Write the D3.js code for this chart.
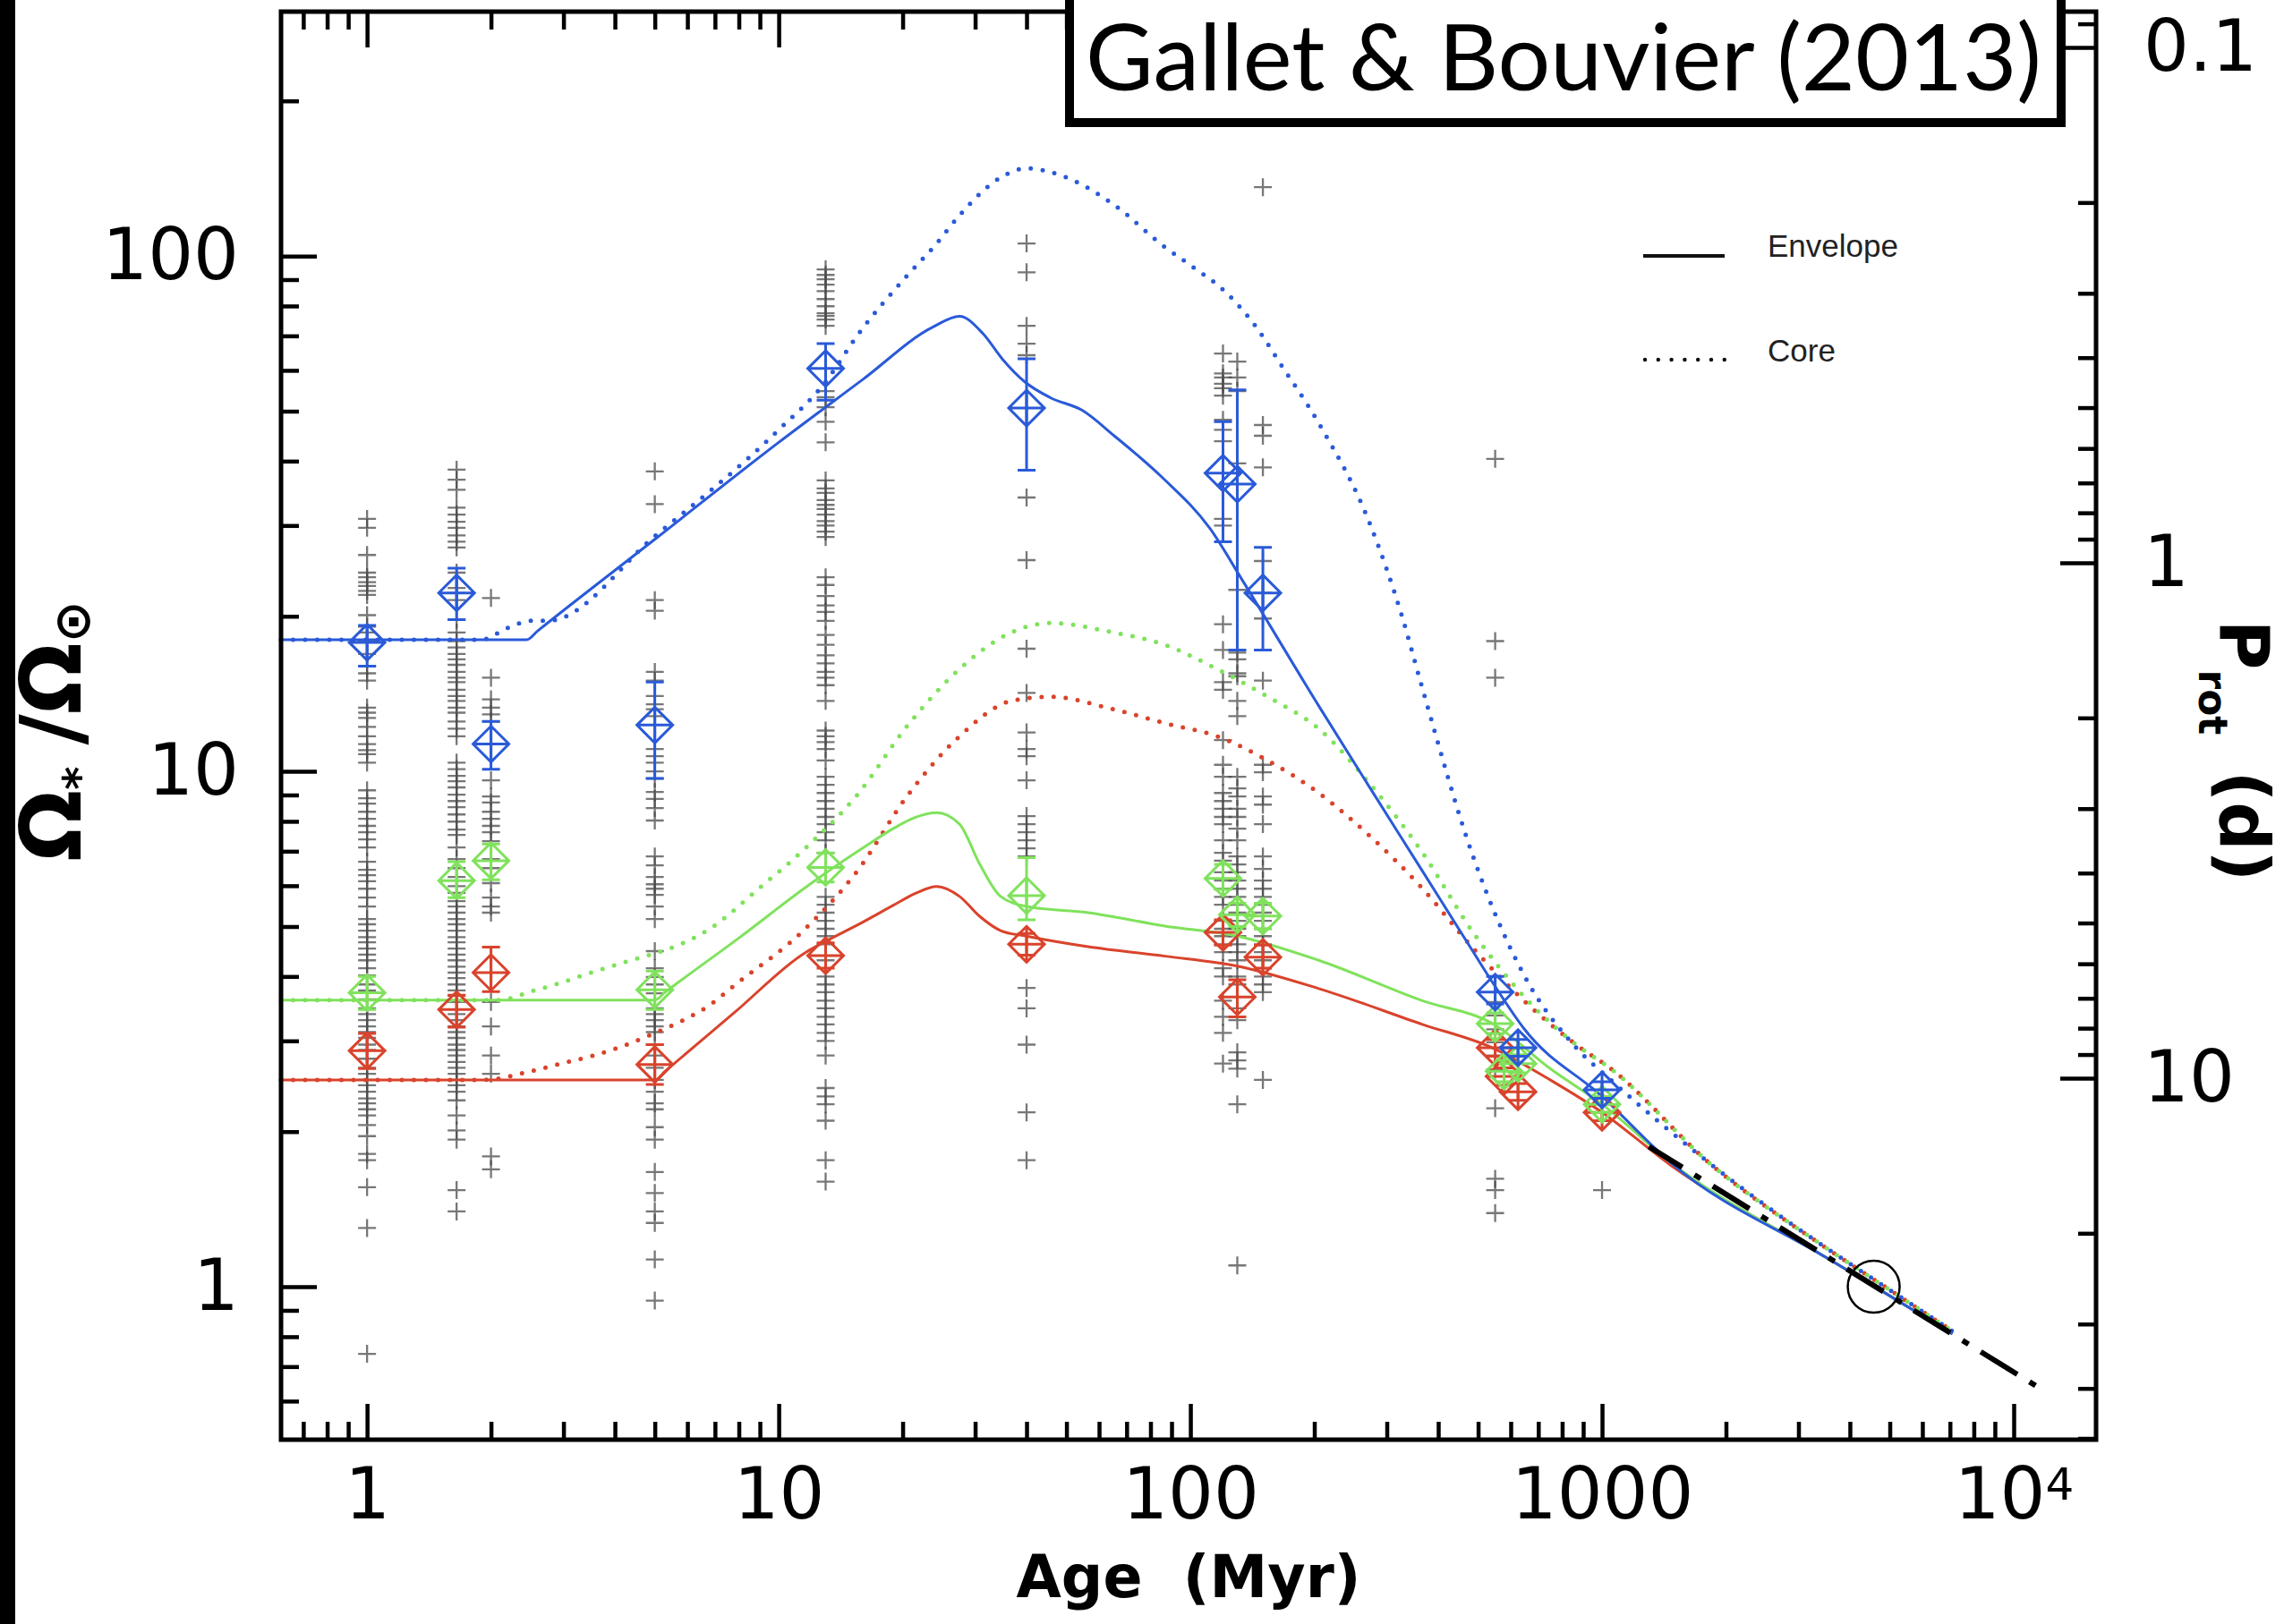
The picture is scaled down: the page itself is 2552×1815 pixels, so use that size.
<!DOCTYPE html>
<html>
<head>
<meta charset="utf-8">
<script src="https://cdn.jsdelivr.net/npm/d3@7"></script>
<style>
  body { margin: 0; background: #fff; }
  svg { display: block; }
</style>
</head>
<body>
<svg id="chart" width="2552" height="1815"></svg>
<script>
// Observed clusters (age in Myr) and the Omega/Omega_sun of their stars
const clusterAges = [1, 1.65, 2, 5, 13, 40, 120, 130, 150, 550, 1000];
const omegaONC = [30.9, 29.7, 26.3, 24.3, 23.8, 23.3, 22.9, 22.4, 22.0, 20.1, 19.1, 18.6, 17.9, 16.9, 16.0, 15.5, 15.0, 13.3, 13.0, 12.7, 12.2, 11.7, 11.3, 11.0, 10.8, 10.4, 9.19, 8.87, 8.66, 8.35, 8.09, 7.84, 7.62, 7.38, 7.12, 6.68, 6.44, 6.29, 6.12, 5.92, 5.69, 5.47, 5.17, 5.05, 4.91, 4.77, 4.66, 4.53, 4.41, 4.30, 4.15, 4.02, 3.86, 3.76, 3.61, 3.47, 3.38, 3.29, 3.20, 3.12, 3.04, 2.95, 2.88, 2.77, 2.66, 2.59, 2.52, 2.46, 2.39, 2.32, 2.27, 2.21, 2.15, 2.06, 1.96, 1.81, 1.76, 1.56, 1.30, 0.741];
const omegaNGC6530 = [38.5, 36.8, 35.2, 32.5, 31.5, 30.5, 29.7, 28.7, 27.9, 27.2, 24.3, 22.7, 22.2, 21.5, 19.7, 18.6, 17.9, 17.4, 16.9, 16.5, 16.1, 15.6, 15.2, 14.9, 14.4, 14.0, 13.7, 13.3, 13.0, 12.5, 12.1, 11.7, 10.4, 10.1, 9.80, 9.57, 9.31, 9.01, 8.76, 8.52, 8.25, 7.99, 7.71, 7.53, 7.12, 6.76, 6.49, 6.24, 5.99, 5.81, 5.60, 5.47, 5.32, 5.17, 5.05, 4.91, 4.77, 4.66, 4.53, 4.41, 4.30, 4.18, 4.07, 3.97, 3.86, 3.76, 3.67, 3.57, 3.38, 3.29, 3.20, 3.12, 3.04, 2.95, 2.88, 2.81, 2.73, 2.66, 2.59, 2.52, 2.46, 2.39, 2.30, 2.15, 2.01, 1.93, 1.54, 1.40];
const omegaNGC2264 = [21.7, 15.2, 13.8, 13.3, 12.9, 12.5, 9.61, 8.94, 8.70, 8.35, 8.09, 7.84, 7.62, 7.32, 6.76, 6.49, 6.07, 5.69, 5.47, 5.32, 3.57, 3.20, 2.81, 2.59, 1.79, 1.69];
const omegaNGC2362 = [38.2, 33.0, 21.5, 20.5, 15.6, 15.0, 14.0, 13.5, 13.2, 12.8, 11.05, 10.7, 10.4, 10.0, 9.69, 9.12, 8.84, 8.49, 8.03, 6.84, 6.57, 6.24, 6.04, 5.92, 5.76, 5.47, 5.17, 4.48, 4.15, 3.99, 3.86, 3.71, 3.47, 3.38, 3.29, 3.20, 3.12, 2.95, 2.81, 2.66, 2.52, 2.39, 2.27, 2.21, 2.04, 1.93, 1.67, 1.52, 1.40, 1.33, 1.13, 0.94];
const omegaHPer = [94.2, 91.9, 90.1, 88.0, 85.5, 82.5, 79.9, 77.4, 76.5, 75.3, 73.2, 54.7, 53.2, 50.9, 47.7, 43.5, 36.7, 35.4, 34.7, 33.6, 32.9, 32.3, 31.5, 30.6, 30.0, 29.2, 28.5, 23.8, 23.0, 21.9, 21.0, 20.4, 19.6, 18.4, 17.6, 16.8, 16.2, 15.6, 15.2, 14.7, 13.7, 12.0, 11.7, 11.4, 11.05, 10.5, 9.76, 9.42, 9.08, 8.76, 8.46, 8.16, 7.90, 7.62, 7.35, 6.95, 5.71, 5.51, 5.32, 5.13, 4.95, 4.79, 4.62, 4.30, 4.00, 3.86, 3.73, 3.59, 3.47, 3.34, 3.23, 3.11, 3.00, 2.81, 2.43, 2.34, 2.26, 2.10, 1.76, 1.60];
const omegaNGC2547 = [105.8, 93.0, 73.2, 67.6, 64.2, 34.0, 25.7, 17.3, 14.2, 11.9, 11.05, 10.7, 9.61, 8.19, 7.90, 7.62, 7.35, 7.09, 6.84, 3.80, 3.47, 2.95, 2.18, 1.76];
const omegaPleiades = [64.7, 59.2, 58.1, 56.5, 55.4, 53.6, 48.1, 46.0, 43.7, 30.9, 30.0, 19.3, 17.2, 14.9, 14.4, 11.5, 10.3, 9.76, 9.08, 8.76, 8.46, 8.16, 7.90, 7.35, 6.95, 6.71, 6.37, 6.14, 5.92, 5.71, 5.51, 5.13, 4.95, 4.79, 4.62, 4.46, 4.15, 4.00, 3.59, 3.34, 3.11, 2.71];
const omegaM50 = [62.4, 58.1, 54.7, 39.6, 22.5, 17.0, 16.5, 15.5, 15.3, 13.7, 12.8, 9.76, 9.27, 8.94, 8.46, 8.16, 7.74, 7.35, 6.84, 6.60, 6.37, 6.14, 5.92, 5.71, 5.51, 5.32, 5.13, 4.95, 4.79, 4.62, 4.46, 4.30, 4.00, 3.86, 3.47, 3.29, 2.85, 2.75, 2.65, 2.26, 1.10];
const omegaM35 = [136, 47.0, 44.8, 38.9, 25.6, 22.2, 19.8, 15.0, 10.3, 9.96, 8.94, 8.62, 7.90, 6.84, 6.47, 6.14, 5.92, 5.71, 5.51, 5.32, 5.13, 4.95, 4.79, 4.62, 4.46, 4.30, 4.15, 4.00, 3.86, 3.73, 2.52];
const omegaM37 = [40.4, 17.9, 15.2, 3.57, 3.36, 3.16, 2.98, 2.81, 2.64, 2.22, 1.62, 1.54, 1.39];
const omegaNGC6811 = [1.54];
const clusterOmegas = [omegaONC, omegaNGC6530, omegaNGC2264, omegaNGC2362, omegaHPer, omegaNGC2547,
  omegaPleiades, omegaM50, omegaM35, omegaM37, omegaNGC6811];

// Percentiles (fast = blue, median = green, slow = red) with error bars
const fastAges = [1, 1.65, 2, 5, 13, 40, 120, 130, 150, 550, 625, 1000];
const fastOmega = [17.8, 22.2, 11.3, 12.3, 60.5, 50.7, 37.9, 36.1, 22.2, 3.73, 2.91, 2.41];
const fastLo = [16.0, 19.7, 10.1, 9.69, 52.5, 38.4, 27.9, 17.2, 17.2, 3.54, 2.80, 2.32];
const fastHi = [19.2, 24.8, 12.5, 14.9, 67.6, 63.2, 47.7, 55.0, 27.2, 4.00, 3.02, 2.50];
const medAges = [1, 1.65, 2, 5, 13, 40, 120, 130, 150, 550, 578, 625, 1000];
const medOmega = [3.72, 6.14, 6.71, 3.77, 6.51, 5.74, 6.2, 5.27, 5.24, 3.24, 2.62, 2.71, 2.26];
const medLo = [3.45, 5.69, 6.16, 3.45, 6.1, 5.15, 5.9, 5.0, 4.95, 3.1, 2.5, 2.6, 2.18];
const medHi = [4.0, 6.68, 7.23, 4.1, 6.95, 6.8, 6.6, 5.55, 5.55, 3.4, 2.75, 2.82, 2.34];
const slowAges = [1, 1.65, 2, 5, 13, 40, 120, 130, 150, 550, 578, 625, 1000];
const slowOmega = [2.87, 3.45, 4.07, 2.70, 4.39, 4.62, 4.87, 3.65, 4.36, 2.91, 2.56, 2.39, 2.18];
const slowLo = [2.65, 3.19, 3.74, 2.47, 4.15, 4.40, 4.6, 3.34, 4.15, 2.80, 2.46, 2.30, 2.10];
const slowHi = [3.10, 3.68, 4.56, 2.95, 4.65, 4.85, 5.15, 3.94, 4.6, 3.02, 2.66, 2.48, 2.26];

// Model curves [age Myr, Omega/Omega_sun]
const envFast = [[0.618,18.0],[2.44,18.0],[2.6,18.75],[5,28.2],[10,43.5],[16,57.6],[23.6,72.7],[27.5,76.4],[31.4,70.6],[35,63.0],[39.6,57.0],[45.7,53.1],[54.6,50.2],[65.3,44.8],[85.4,37.2],[111.6,29.6],[133.7,23.5],[205,13.4],[274,9.25],[366,6.41],[486,4.47],[546,3.86],[646,3.17],[1000,2.34],[1470,1.74],[3500,1.14],[4600,1.0],[7100,0.81]];
const coreFast = [[0.618,18.0],[1.89,18.0],[2.2,19.0],[2.5,19.6],[2.75,19.6],[5,28.6],[10,46],[13,57],[15.5,70],[20.6,92],[24,105],[27.5,120],[34.6,142],[40,148],[48.9,143],[65,126],[86.8,104],[100,96],[122,85],[146,72],[165,62],[205,47.4],[274,30],[326,20.1],[366,14.5],[486,6.84],[649,4.0],[865,2.91],[1050,2.52],[1820,1.74],[3500,1.19],[4600,1.03],[7100,0.82]];
const envMedian = [[0.618,3.6],[5.0,3.6],[5.3,3.73],[8,4.75],[11.6,5.95],[13,6.35],[16,7.1],[19,7.75],[21.5,8.15],[24.2,8.32],[27.5,7.9],[30.8,6.6],[34.6,5.72],[40,5.47],[56.4,5.32],[86.8,5.01],[130,4.79],[205,4.30],[366,3.59],[546,3.23],[748,2.65],[1000,2.26],[1470,1.74],[3500,1.14],[4600,1.0],[7100,0.81]];
const coreMedian = [[0.618,3.6],[2.09,3.6],[2.5,3.74],[2.96,3.89],[3.5,4.07],[4.13,4.24],[4.88,4.41],[5.77,4.62],[6.8,4.95],[9,5.95],[11.6,7.09],[15.5,9.0],[20.6,12.3],[27.5,15.8],[36.7,18.6],[45.6,19.4],[65,18.6],[86.8,17.6],[116,15.8],[154,13.96],[205,12.1],[274,9.42],[366,6.96],[486,4.87],[646,3.66],[865,2.95],[1050,2.65],[1820,1.74],[3500,1.19],[4600,1.03],[7100,0.82]];
const envSlow = [[0.618,2.52],[5.0,2.52],[5.3,2.62],[7.79,3.40],[11.6,4.45],[13,4.68],[16,5.1],[19,5.5],[21.5,5.8],[24.2,5.98],[27.5,5.72],[30.8,5.23],[34.6,4.91],[40,4.79],[56.4,4.57],[86.8,4.38],[130,4.19],[205,3.79],[366,3.23],[546,2.90],[748,2.52],[1000,2.18],[1470,1.72],[3500,1.14],[4600,1.0],[7100,0.81]];
const coreSlow = [[0.618,2.52],[1.92,2.52],[2.5,2.62],[2.96,2.71],[3.5,2.80],[4.13,2.92],[4.88,3.08],[5.77,3.27],[6.8,3.52],[7.79,3.84],[11.6,4.95],[15.5,6.4],[20.6,9.0],[27.5,11.7],[36.7,13.7],[45.6,13.96],[65,13.2],[86.8,12.4],[116,11.7],[154,10.5],[205,9.08],[274,7.47],[366,5.93],[486,4.54],[646,3.59],[865,2.95],[1050,2.65],[1820,1.74],[3500,1.19],[4600,1.03],[7100,0.82]];
const skumanich = [[11300,0.643],[1300,1.87]];
const sunAge = 4570, sunOmega = 1;

// Axis ticks and labels
const xMajor = [1, 10, 100, 1000, 10000];
const xLabels = ['1', '10', '100', '1000', '10^4'];
const xMinor = [0.7, 0.8, 0.9, 2, 3, 4, 5, 6, 7, 8, 9, 20, 30, 40, 50, 60, 70, 80, 90,
  200, 300, 400, 500, 600, 700, 800, 900, 2000, 3000, 4000, 5000, 6000, 7000, 8000, 9000];
const yMajor = [1, 10, 100];
const yLabels = ['1', '10', '100'];
const yMinor = [0.6, 0.7, 0.8, 0.9, 2, 3, 4, 5, 6, 7, 8, 9, 20, 30, 40, 50, 60, 70, 80, 90, 200];
const pMajor = [0.1, 1, 10];
const pLabels = ['0.1', '1', '10'];
const pMinor = [0.09, 0.2, 0.3, 0.4, 0.5, 0.6, 0.7, 0.8, 0.9, 2, 3, 4, 5, 6, 7, 8, 9, 20, 30, 40, 50];
const pSun = 25.4;

const colors = { fast: '#2a5ad8', median: '#80e25c', slow: '#d9432c' };

// ---- drawing ----
let svg = d3.select('#chart');
let frameLeft = 314, frameRight = 2342, frameTop = 13, frameBottom = 1609;

let x = d3.scaleLog().domain([0.618, 15850]).range([frameLeft, frameRight]);
let y = d3.scaleLog().domain([0.505, 298]).range([frameBottom, frameTop]);
let yP = d3.scaleLog().domain([pSun / 0.505, pSun / 298]).range([frameBottom, frameTop]);

svg.append('rect').attr('width', 2552).attr('height', 1815).attr('fill', '#fff');
svg.append('rect').attr('x', 0).attr('y', 0).attr('width', 17).attr('height', 1815).attr('fill', '#000');

let labelFont = '"DejaVu Sans", "Liberation Sans", sans-serif';

let styleAxis = (g, fontSize) => {
    g.select('.domain').remove();
    g.selectAll('line').attr('stroke', '#000').attr('stroke-width', 4.5);
    g.attr('font-size', fontSize).attr('font-family', labelFont);
    g.selectAll('text').attr('fill', '#000');
};

// bottom axis
svg.append('g').attr('transform', `translate(0,${frameBottom})`)
    .call(d3.axisBottom(x).tickValues(xMajor).tickSizeInner(-40).tickSizeOuter(0).tickPadding(31)
        .tickFormat((d, i) => xLabels[i]))
    .call((g) => styleAxis(g, 80))
    .call((g) => g.selectAll('text').filter((d) => d === 10000).each(function () {
        let t = d3.select(this).text('');
        t.append('tspan').text('10');
        t.append('tspan').attr('dy', '-0.42em').attr('font-size', 50).text('4');
    }));
svg.append('g').attr('transform', `translate(0,${frameBottom})`)
    .call(d3.axisBottom(x).tickValues(xMinor).tickSizeInner(-20).tickSizeOuter(0).tickFormat(''))
    .call((g) => styleAxis(g, 10));

// top axis
svg.append('g').attr('transform', `translate(0,${frameTop})`)
    .call(d3.axisTop(x).tickValues(xMajor).tickSizeInner(-40).tickSizeOuter(0).tickFormat(''))
    .call((g) => styleAxis(g, 10));
svg.append('g').attr('transform', `translate(0,${frameTop})`)
    .call(d3.axisTop(x).tickValues(xMinor).tickSizeInner(-20).tickSizeOuter(0).tickFormat(''))
    .call((g) => styleAxis(g, 10));

// left axis
svg.append('g').attr('transform', `translate(${frameLeft},0)`)
    .call(d3.axisLeft(y).tickValues(yMajor).tickSizeInner(-40).tickSizeOuter(0).tickPadding(47)
        .tickFormat((d, i) => yLabels[i]))
    .call((g) => styleAxis(g, 80));
svg.append('g').attr('transform', `translate(${frameLeft},0)`)
    .call(d3.axisLeft(y).tickValues(yMinor).tickSizeInner(-20).tickSizeOuter(0).tickFormat(''))
    .call((g) => styleAxis(g, 10));

// right axis (rotation period)
svg.append('g').attr('transform', `translate(${frameRight},0)`)
    .call(d3.axisRight(yP).tickValues(pMajor).tickSizeInner(-40).tickSizeOuter(0).tickPadding(53)
        .tickFormat((d, i) => pLabels[i]))
    .call((g) => styleAxis(g, 80));
svg.append('g').attr('transform', `translate(${frameRight},0)`)
    .call(d3.axisRight(yP).tickValues(pMinor).tickSizeInner(-20).tickSizeOuter(0).tickFormat(''))
    .call((g) => styleAxis(g, 10));

// observed stars
let plot = svg.append('g');
let stars = [];
clusterAges.forEach((age, i) => clusterOmegas[i].forEach((w) => stars.push({ age, w })));
plot.selectAll('path.star')
    .data(stars)
    .enter()
    .append('path')
    .attr('class', 'star')
    .attr('transform', (d) => `translate(${x(d.age)},${y(d.w)})`)
    .attr('d', 'M-10,0H10M0,-10V10')
    .attr('stroke', '#4a4a4a')
    .attr('stroke-opacity', 0.75)
    .attr('stroke-width', 2.3)
    .attr('fill', 'none');

// model curves
let line = d3.line()
    .x((d) => x(d[0]))
    .y((d) => y(d[1]))
    .curve(d3.curveMonotoneX);

let drawCurve = (data, color, dotted) => {
    let p = plot.append('path')
        .datum(data)
        .attr('fill', 'none')
        .attr('stroke', color)
        .attr('d', line);
    if (dotted) {
        p.attr('stroke-width', 5).attr('stroke-linecap', 'round').attr('stroke-dasharray', '0 13.5');
    } else {
        p.attr('stroke-width', 3);
    }
};
drawCurve(coreSlow, colors.slow, true);
drawCurve(coreMedian, colors.median, true);
drawCurve(coreFast, colors.fast, true);
drawCurve(envSlow, colors.slow, false);
drawCurve(envMedian, colors.median, false);
drawCurve(envFast, colors.fast, false);

// percentile diamonds with error bars
let drawDiamonds = (ages, vals, lo, hi, color) => {
    let rows = ages.map((a, i) => ({ a, v: vals[i], lo: lo[i], hi: hi[i] }));
    let g = plot.append('g').attr('stroke', color).attr('fill', 'none').attr('stroke-width', 3);
    rows.forEach((d) => {
        let cx = x(d.a);
        g.append('path')
            .attr('d', `M${cx},${y(d.lo)}V${y(d.hi)}M${cx - 10},${y(d.lo)}H${cx + 10}M${cx - 10},${y(d.hi)}H${cx + 10}`);
        g.append('path')
            .attr('transform', `translate(${cx},${y(d.v)})`)
            .attr('d', 'M0,-20L20,0L0,20L-20,0ZM-20,0H20M0,-20V20');
    });
};
drawDiamonds(slowAges, slowOmega, slowLo, slowHi, colors.slow);
drawDiamonds(medAges, medOmega, medLo, medHi, colors.median);
drawDiamonds(fastAges, fastOmega, fastLo, fastHi, colors.fast);

// Skumanich extrapolation and the Sun
plot.append('path')
    .datum(skumanich)
    .attr('fill', 'none')
    .attr('stroke', '#000')
    .attr('stroke-width', 6)
    .attr('stroke-dasharray', '8 16 48 16')
    .attr('d', d3.line().x((d) => x(d[0])).y((d) => y(d[1])));
plot.append('circle')
    .attr('cx', x(sunAge))
    .attr('cy', y(sunOmega))
    .attr('r', 29)
    .attr('fill', 'none')
    .attr('stroke', '#000')
    .attr('stroke-width', 2.5);

// frame
svg.append('rect')
    .attr('x', frameLeft).attr('y', frameTop)
    .attr('width', frameRight - frameLeft).attr('height', frameBottom - frameTop)
    .attr('fill', 'none').attr('stroke', '#000').attr('stroke-width', 5);

// legend
let legend = svg.append('g').attr('font-family', '"Liberation Sans", Arial, sans-serif')
    .attr('font-size', 35).attr('fill', '#222');
legend.append('line').attr('x1', 1836).attr('x2', 1927).attr('y1', 286).attr('y2', 286)
    .attr('stroke', '#111').attr('stroke-width', 4);
legend.append('text').attr('x', 1975).attr('y', 287).text('Envelope');
legend.append('line').attr('x1', 1838).attr('x2', 1927).attr('y1', 402).attr('y2', 402)
    .attr('stroke', '#111').attr('stroke-width', 4.5).attr('stroke-linecap', 'round')
    .attr('stroke-dasharray', '0 14.8');
legend.append('text').attr('x', 1975).attr('y', 404).text('Core');

// title box
svg.append('rect')
    .attr('x', 1195).attr('y', -20).attr('width', 1108).attr('height', 157)
    .attr('fill', '#fff').attr('stroke', '#000').attr('stroke-width', 10);
svg.append('text')
    .attr('x', 1213).attr('y', 101)
    .attr('font-family', 'Lato, "Open Sans", sans-serif')
    .attr('font-size', 102)
    .attr('textLength', 1068)
    .attr('lengthAdjust', 'spacingAndGlyphs')
    .text('Gallet & Bouvier (2013)');

// axis titles
svg.append('text')
    .attr('x', 1328).attr('y', 1785)
    .attr('text-anchor', 'middle')
    .attr('font-family', labelFont)
    .attr('font-weight', 'bold')
    .attr('font-size', 66)
    .attr('textLength', 385)
    .attr('lengthAdjust', 'spacingAndGlyphs')
    .style('white-space', 'pre')
    .text('Age  (Myr)');

let yTitle = svg.append('text')
    .attr('transform', 'translate(90,817) rotate(-90)')
    .attr('text-anchor', 'middle')
    .attr('font-family', labelFont)
    .attr('font-weight', 'bold')
    .attr('font-size', 94);
yTitle.append('tspan').text('Ω');
yTitle.append('tspan').attr('font-size', 50).attr('dy', 16).text('*');
yTitle.append('tspan').attr('dy', -16).attr('dx', 24).text('/Ω');
yTitle.append('tspan').attr('font-size', 56).attr('dy', 10).text('⊙');

let pTitle = svg.append('text')
    .attr('transform', 'translate(2481,839) rotate(90)')
    .attr('text-anchor', 'middle')
    .attr('font-family', labelFont)
    .attr('font-weight', 'bold')
    .attr('font-size', 76);
pTitle.append('tspan').text('P');
pTitle.append('tspan').attr('font-size', 44).attr('dy', 24).text('rot');
pTitle.append('tspan').attr('dy', -24).attr('dx', 40).text('(d)');
</script>
</body>
</html>
